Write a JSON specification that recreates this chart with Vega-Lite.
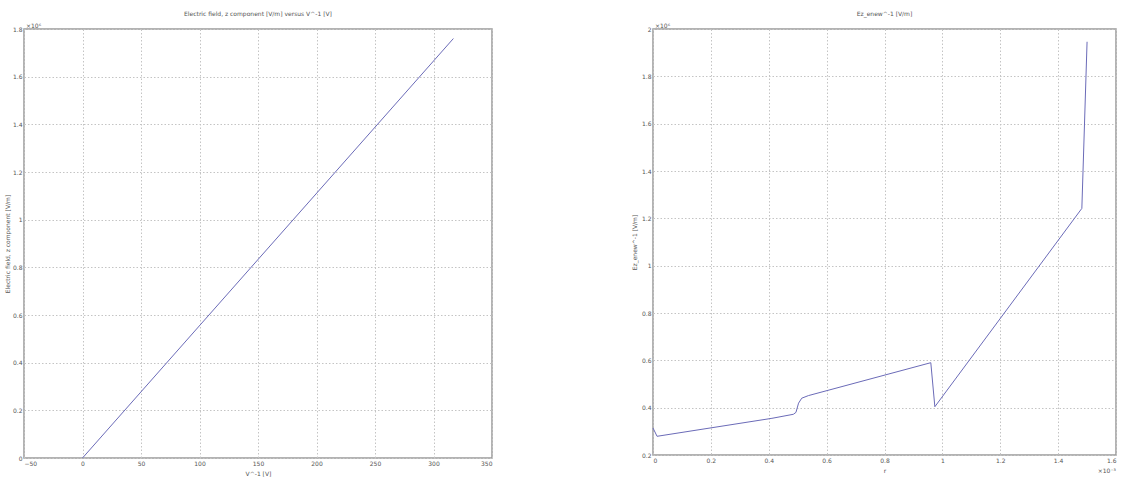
{
  "$schema": "https://vega.github.io/schema/vega-lite/v6.json",
  "padding": {"left": 3, "top": 10, "right": 0, "bottom": 0},
  "background": "white",
  "spacing": 137,
  "datasets": {
    "left": [
      {"v": 0, "e": 0},
      {"v": 317, "e": 1.76}
    ],
    "right": [
      {"r": 0, "e": 0.314},
      {"r": 0.014, "e": 0.279},
      {"r": 0.411, "e": 0.355},
      {"r": 0.485, "e": 0.372},
      {"r": 0.494, "e": 0.38},
      {"r": 0.503, "e": 0.419},
      {"r": 0.514, "e": 0.44},
      {"r": 0.537, "e": 0.451},
      {"r": 0.96, "e": 0.59},
      {"r": 0.974, "e": 0.404},
      {"r": 1.482, "e": 1.242},
      {"r": 1.5, "e": 1.946}
    ],
    "leftExp": [{"v": -50, "e": 1.8, "t": "×10⁶"}],
    "rightExp": [
      {"r": 0, "e": 2, "t": "×10⁶", "a": "y"},
      {"r": 1.6, "e": 0.2, "t": "×10⁻³", "a": "x"}
    ]
  },
  "config": {
    "font": "DejaVu Sans",
    "view": {"stroke": "#9a9a9a", "strokeWidth": 1.5},
    "axis": {
      "labelFontSize": 6,
      "titleFontSize": 6,
      "titleFontWeight": "normal",
      "labelColor": "#555",
      "titleColor": "#555",
      "grid": true,
      "gridColor": "#c4c4c4",
      "gridDash": [1.5, 2],
      "gridWidth": 1,
      "domain": false,
      "ticks": false,
      "labelPadding": 2
    },
    "title": {"fontSize": 6, "fontWeight": "normal", "color": "#555", "offset": 6}
  },
  "hconcat": [
    {
      "width": 468,
      "height": 429,
      "title": "Electric field, z component [V/m] versus V^-1 [V]",
      "layer": [
        {
          "data": {"name": "left"},
          "mark": {"type": "line", "color": "#6b6bb8", "strokeWidth": 1},
          "encoding": {
            "x": {
              "field": "v", "type": "quantitative",
              "scale": {"domain": [-50, 350], "nice": false},
              "axis": {"values": [-50, 0, 50, 100, 150, 200, 250, 300, 350], "title": "V^-1 [V]", "titlePadding": 4}
            },
            "y": {
              "field": "e", "type": "quantitative",
              "scale": {"domain": [0, 1.8], "nice": false},
              "axis": {"values": [0, 0.2, 0.4, 0.6, 0.8, 1, 1.2, 1.4, 1.6, 1.8], "format": "~g", "title": "Electric field, z component [V/m]", "titlePadding": 2}
            }
          }
        },
        {
          "data": {"name": "leftExp"},
          "mark": {"type": "text", "fontSize": 6, "align": "left", "baseline": "bottom", "dx": 2, "dy": 0, "color": "#555"},
          "encoding": {
            "x": {"field": "v", "type": "quantitative"},
            "y": {"field": "e", "type": "quantitative"},
            "text": {"field": "t"}
          }
        }
      ]
    },
    {
      "width": 463,
      "height": 426,
      "title": "Ez_enew^-1 [V/m]",
      "layer": [
        {
          "data": {"name": "right"},
          "mark": {"type": "line", "color": "#6b6bb8", "strokeWidth": 1},
          "encoding": {
            "x": {
              "field": "r", "type": "quantitative",
              "scale": {"domain": [0, 1.6], "nice": false},
              "axis": {"values": [0, 0.2, 0.4, 0.6, 0.8, 1, 1.2, 1.4, 1.6], "format": "~g", "title": "r", "titlePadding": 4}
            },
            "y": {
              "field": "e", "type": "quantitative",
              "scale": {"domain": [0.2, 2], "nice": false, "zero": false},
              "axis": {"values": [0.2, 0.4, 0.6, 0.8, 1, 1.2, 1.4, 1.6, 1.8, 2], "format": "~g", "title": "Ez_enew^-1 [V/m]", "titlePadding": 4}
            }
          }
        },
        {
          "data": {"name": "rightExp"},
          "transform": [{"filter": "datum.a == 'y'"}],
          "mark": {"type": "text", "fontSize": 6, "align": "left", "baseline": "bottom", "dx": 2, "color": "#555"},
          "encoding": {
            "x": {"field": "r", "type": "quantitative"},
            "y": {"field": "e", "type": "quantitative"},
            "text": {"field": "t"}
          }
        },
        {
          "data": {"name": "rightExp"},
          "transform": [{"filter": "datum.a == 'x'"}],
          "mark": {"type": "text", "fontSize": 6, "align": "right", "baseline": "top", "dy": 13, "color": "#555"},
          "encoding": {
            "x": {"field": "r", "type": "quantitative"},
            "y": {"field": "e", "type": "quantitative"},
            "text": {"field": "t"}
          }
        }
      ]
    }
  ]
}
